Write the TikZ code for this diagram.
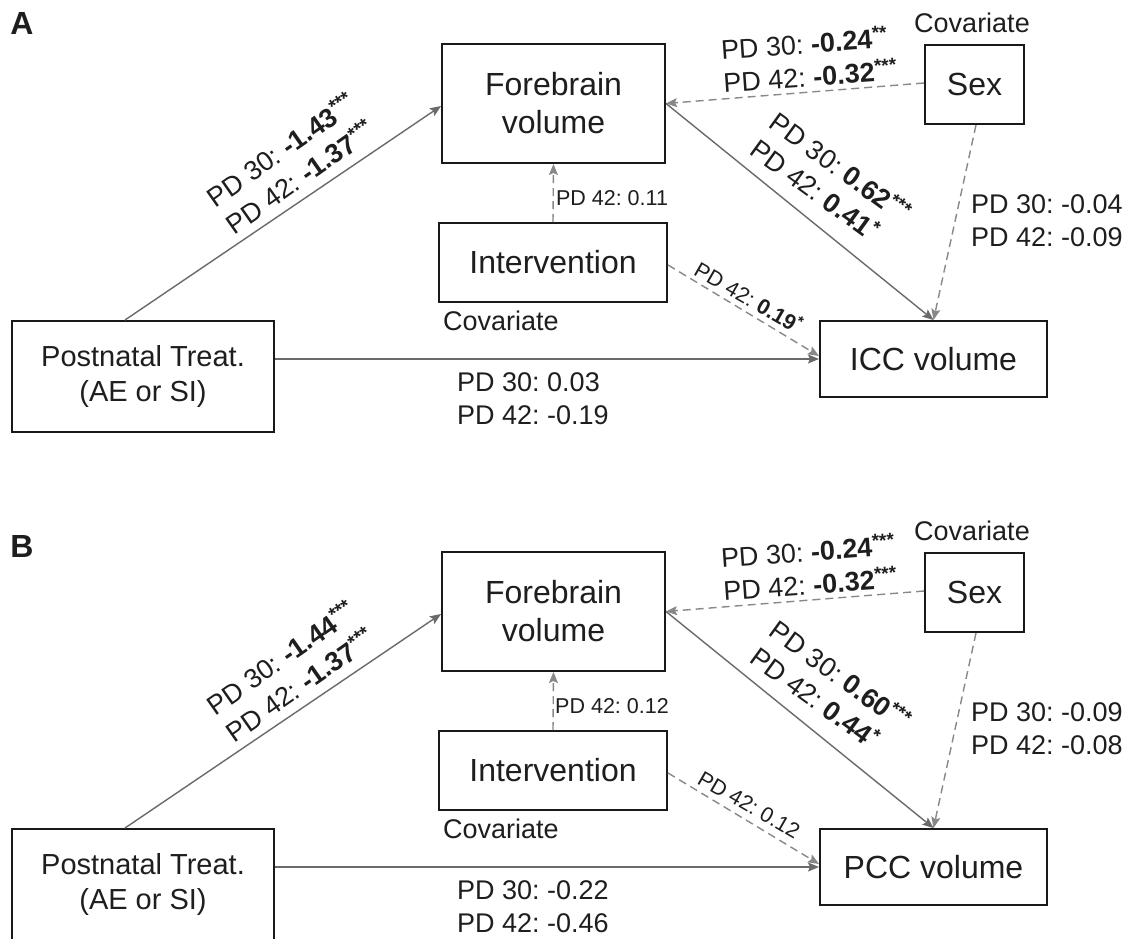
\documentclass[tikz,border=0pt]{standalone}
\usepackage{fontspec}
\setmainfont{Liberation Sans}
\usetikzlibrary{arrows.meta,calc}
\frenchspacing
\definecolor{ln}{HTML}{6A6A6A}
\definecolor{dl}{HTML}{888888}
\definecolor{tx}{HTML}{1E1E1E}
\tikzset{
 box/.style={draw=black!90, line width=2pt, rectangle, align=center, inner sep=0pt, text=tx, font=\fontsize{32}{38}\selectfont},
 lbl/.style={inner sep=0pt, text=tx, font=\fontsize{27}{33}\selectfont, align=left},
 slbl/.style={inner sep=0pt, text=tx, font=\fontsize{21.5}{26}\selectfont},
 conn/.style={draw=ln, line width=1.4pt, -{Stealth[length=11pt,width=9pt,inset=2pt]}},
 dconn/.style={draw=dl, line width=1.4pt, dash pattern=on 8pt off 5pt, -{Stealth[length=11pt,width=9pt,inset=2pt]}},
 panel/.style={font=\bfseries\fontsize{32}{36}\selectfont, inner sep=0pt, text=tx},
}
\begin{document}
\begin{tikzpicture}[x=1pt,y=-1pt]
\useasboundingbox (0,0) rectangle (1138,938);
\clip (0,0) rectangle (1138,938);
\fill[white] (0,0) rectangle (1138,938);

% ---------- Panel A ----------
\node[panel] (lA) at (22,23) {A};
\node[box, minimum width=262pt, minimum height=111pt, font=\fontsize{29}{35}\selectfont] (ptA) at (143,376.5) {Postnatal Treat.\\(AE or SI)};
\node[box, minimum width=223pt, minimum height=119pt] (fbA) at (553.5,103.5) {Forebrain\\volume};
\node[box, minimum width=99pt, minimum height=79pt] (sxA) at (974.5,84.5) {Sex};
\node[box, minimum width=228pt, minimum height=79pt] (inA) at (553,262.5) {Intervention};
\node[box, minimum width=227pt, minimum height=76pt] (ouA) at (933.5,359) {ICC volume};
\node[lbl] (cvsA) at (972,23) {Covariate};
\node[lbl, anchor=west] (cviA) at (443,321) {Covariate};

\draw[conn] ([xshift=114pt]ptA.north west) -- ([yshift=-2.5pt]fbA.west);
\draw[conn] (ptA.east |- ouA.west) -- (ouA.west);
\draw[dconn] ([yshift=1.5pt]sxA.west) -- (fbA.east);
\draw[conn] (fbA.east) -- (ouA.north);
\draw[dconn] ([xshift=1.5pt]sxA.south) -- (ouA.north);
\draw[dconn] (inA.north) -- (fbA.south);
\draw[dconn] ([yshift=-2.5pt]inA.east) -- ([yshift=3pt]ouA.west);

\node[lbl, align=center, rotate=35] (l1A) at (290,163) {PD 30: \textbf{-1.43\textsuperscript{***}}\\PD 42: \textbf{-1.37\textsuperscript{***}}};
\node[lbl, rotate=4] (l2A) at (809,59) {PD 30: \textbf{-0.24\textsuperscript{**}}\\PD 42: \textbf{-0.32\textsuperscript{***}}};
\node[lbl, rotate=-36] (l3A) at (831,180) {PD 30: \textbf{0.62\textsuperscript{***}}\\PD 42: \textbf{0.41\textsuperscript{*}}};
\node[slbl] (l4A) at (612,198) {PD 42: 0.11};
\node[slbl, rotate=-30] (l5A) at (749,297) {PD 42: \textbf{0.19\textsuperscript{*}}};
\node[lbl, anchor=west] (l6A) at (971,221) {PD 30: -0.04\\PD 42: -0.09};
\node[lbl, anchor=west] (l7A) at (457,398.5) {PD 30: 0.03\\PD 42: -0.19};

% ---------- Panel B ----------
\node[panel] (lB) at (22,546) {B};
\begin{scope}[shift={(0,508)}]
\node[box, minimum width=262pt, minimum height=111pt, font=\fontsize{29}{35}\selectfont] (ptB) at (143,376.5) {Postnatal Treat.\\(AE or SI)};
\node[box, minimum width=223pt, minimum height=119pt] (fbB) at (553.5,103.5) {Forebrain\\volume};
\node[box, minimum width=99pt, minimum height=79pt] (sxB) at (974.5,84.5) {Sex};
\node[box, minimum width=228pt, minimum height=79pt] (inB) at (553,262.5) {Intervention};
\node[box, minimum width=227pt, minimum height=76pt] (ouB) at (933.5,359) {PCC volume};
\node[lbl] (cvsB) at (972,23) {Covariate};
\node[lbl, anchor=west] (cviB) at (443,321) {Covariate};

\draw[conn] ([xshift=114pt]ptB.north west) -- ([yshift=-2.5pt]fbB.west);
\draw[conn] (ptB.east |- ouB.west) -- (ouB.west);
\draw[dconn] ([yshift=1.5pt]sxB.west) -- (fbB.east);
\draw[conn] (fbB.east) -- (ouB.north);
\draw[dconn] ([xshift=1.5pt]sxB.south) -- (ouB.north);
\draw[dconn] (inB.north) -- (fbB.south);
\draw[dconn] ([yshift=-2.5pt]inB.east) -- ([yshift=3pt]ouB.west);

\node[lbl, align=center, rotate=35] (l1B) at (290,163) {PD 30: \textbf{-1.44\textsuperscript{***}}\\PD 42: \textbf{-1.37\textsuperscript{***}}};
\node[lbl, rotate=4] (l2B) at (809,59) {PD 30: \textbf{-0.24\textsuperscript{***}}\\PD 42: \textbf{-0.32\textsuperscript{***}}};
\node[lbl, rotate=-36] (l3B) at (831,180) {PD 30: \textbf{0.60\textsuperscript{***}}\\PD 42: \textbf{0.44\textsuperscript{*}}};
\node[slbl] (l4B) at (612,198) {PD 42: 0.12};
\node[slbl, rotate=-30] (l5B) at (749,297) {PD 42: 0.12};
\node[lbl, anchor=west] (l6B) at (971,221) {PD 30: -0.09\\PD 42: -0.08};
\node[lbl, anchor=west] (l7B) at (457,398.5) {PD 30: -0.22\\PD 42: -0.46};
\end{scope}
\end{tikzpicture}
\end{document}
